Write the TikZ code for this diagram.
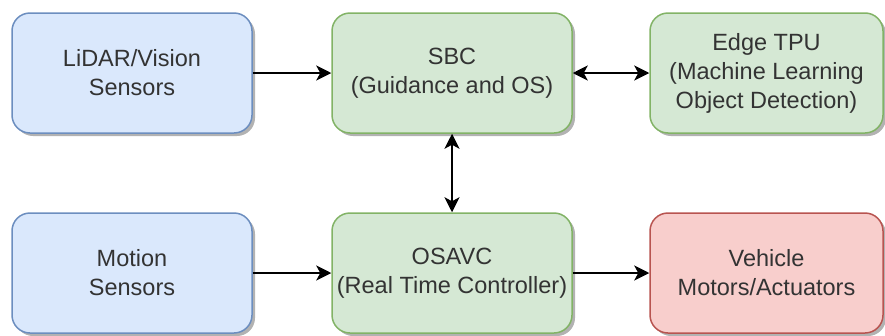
\documentclass[tikz,border=0pt]{standalone}
\usepackage{fontspec}
\setmainfont{Liberation Sans}
\usetikzlibrary{arrows.meta,shadows}

\definecolor{bluefill}{HTML}{DAE8FC}
\definecolor{blueline}{HTML}{6C8EBF}
\definecolor{greenfill}{HTML}{D5E8D4}
\definecolor{greenline}{HTML}{82B366}
\definecolor{redfill}{HTML}{F8CECC}
\definecolor{redline}{HTML}{B85450}
\definecolor{textgray}{HTML}{333333}

\tikzset{
	block/.style={draw, line width=1.5pt, rounded corners=18pt, align=center,
		minimum width=240pt, minimum height=120pt, inner sep=0pt,
		text=textgray, font=\fontsize{23.5}{29}\selectfont,
		drop shadow={shadow xshift=3pt, shadow yshift=-3pt, fill=black, opacity=0.3}},
	sensor/.style={block, fill=bluefill, draw=blueline},
	compute/.style={block, fill=greenfill, draw=greenline},
	actuator/.style={block, fill=redfill, draw=redline},
	link/.style={line width=1.8pt, -{Stealth[length=15pt, width=15pt, inset=4pt]}},
	duplex/.style={line width=1.8pt, {Stealth[length=15pt, width=15pt, inset=4pt]}-{Stealth[length=15pt, width=15pt, inset=4pt]}}
}

\begin{document}
\begin{tikzpicture}[x=1pt, y=-1pt]
	\useasboundingbox (0,0) rectangle (885,335);

	\node[sensor] (lidar) at (132,73) {LiDAR/Vision\\Sensors};
	\node[compute] (sbc) at (452,73) {SBC\\(Guidance and OS)};
	\node[compute, minimum width=233pt] (tpu) at (766.5,73) {Edge TPU\\(Machine Learning\\Object Detection)};
	\node[sensor] (motion) at (132,273) {Motion\\Sensors};
	\node[compute] (osavc) at (452,273) {OSAVC\\(Real Time Controller)};
	\node[actuator, minimum width=233pt] (vehicle) at (766.5,273) {Vehicle\\Motors/Actuators};

	\draw[link] (lidar) -- (sbc);
	\draw[duplex] (sbc) -- (tpu);
	\draw[duplex] (sbc) -- (osavc);
	\draw[link] (motion) -- (osavc);
	\draw[link] (osavc) -- (vehicle);
\end{tikzpicture}
\end{document}
